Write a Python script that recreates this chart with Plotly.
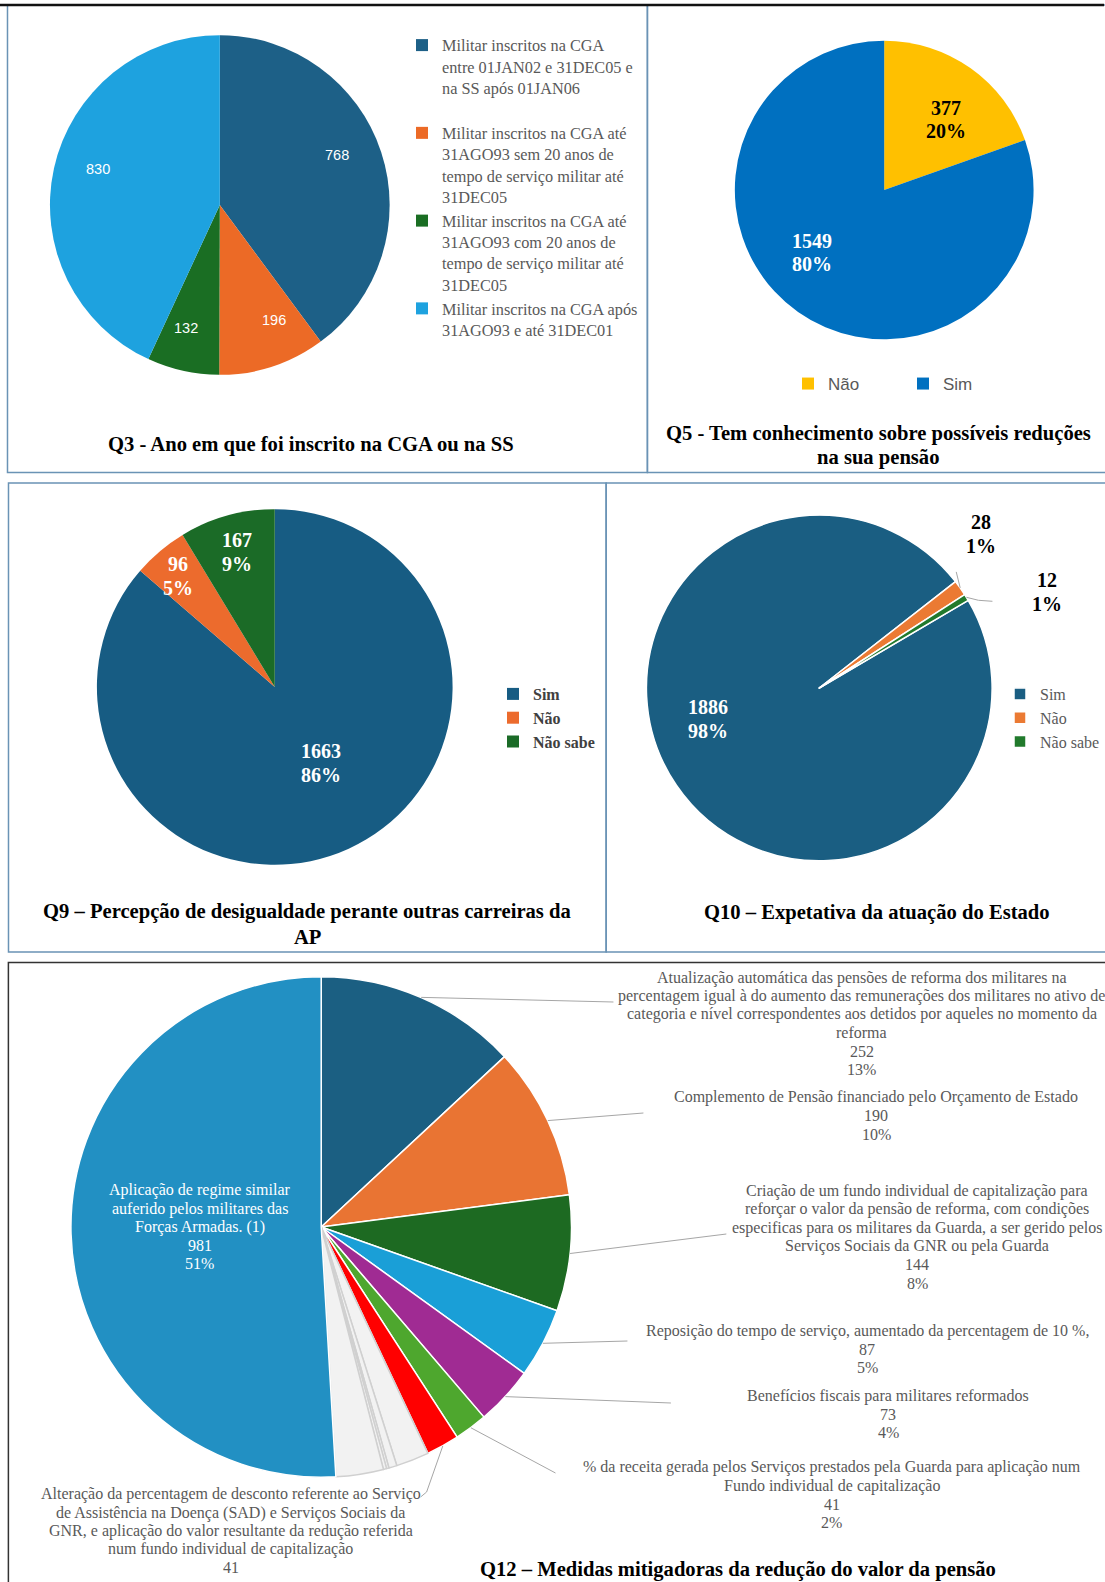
import math
import plotly.graph_objects as go

W, H = 1105, 1582
SERIF = "Liberation Serif, Times New Roman, serif"
SANS = "Liberation Sans, Arial, sans-serif"
GREY = "#595959"

# ---- data ----
q3_labels = [
    "Militar inscritos na CGA\nentre 01JAN02 e 31DEC05 e\nna SS após 01JAN06",
    "Militar inscritos na CGA até\n31AGO93 sem 20 anos de\ntempo de serviço militar até\n31DEC05",
    "Militar inscritos na CGA até\n31AGO93 com 20 anos de\ntempo de serviço militar até\n31DEC05",
    "Militar inscritos na CGA após\n31AGO93 e até 31DEC01",
]
q3_values = [768, 196, 132, 830]
q3_colors = ["#1d6087", "#ec6a26", "#1a6e23", "#1ea2df"]

q5_labels = ["Não", "Sim"]
q5_values = [377, 1549]
q5_pct = ["20%", "80%"]
q5_colors = ["#ffc000", "#0070c0"]

q9_labels = ["Sim", "Não", "Não sabe"]
q9_values = [1663, 96, 167]
q9_pct = ["86%", "5%", "9%"]
q9_colors = ["#175c83", "#ec6b2d", "#1b6b27"]

q10_labels = ["Sim", "Não", "Não sabe"]
q10_values = [1886, 28, 12]
q10_pct = ["98%", "1%", "1%"]
q10_colors = ["#1a5e82", "#eb7a33", "#217a2c"]

q12_labels = [
    "Atualização automática das pensões de reforma dos militares na\n"
    "percentagem igual à do aumento das remunerações dos militares no ativo de\n"
    "categoria e nível correspondentes aos detidos por aqueles no momento da\nreforma",
    "Complemento de Pensão financiado pelo Orçamento de Estado",
    "Criação de um fundo individual de capitalização para\n"
    "reforçar o valor da pensão de reforma, com condições\n"
    "especificas para os militares da Guarda, a ser gerido pelos\n"
    "Serviços Sociais da GNR ou pela Guarda",
    "Reposição do tempo de serviço, aumentado da percentagem de 10 %,",
    "Benefícios fiscais para militares reformados",
    "% da receita gerada pelos Serviços prestados pela Guarda para aplicação num\n"
    "Fundo individual de capitalização",
    "Alteração da percentagem de desconto referente ao Serviço\n"
    "de Assistência na Doença (SAD) e Serviços Sociais da\n"
    "GNR, e aplicação do valor resultante da redução referida\n"
    "num fundo individual de capitalização",
    "Outra medida 1", "Outra medida 2", "Outra medida 3", "Outra medida 4", "Outra medida 5",
    "Aplicação de regime similar\nauferido pelos militares das\nForças Armadas. (1)",
]
q12_values = [252, 190, 144, 87, 73, 41, 41, 41, 10, 3, 4, 59, 981]
q12_pct = ["13%", "10%", "8%", "5%", "4%", "2%", "", "", "", "", "", "", "51%"]
q12_colors = ["#1b5f82", "#e97433", "#1d6a22", "#1a9fd7", "#a02b93", "#4ea72e", "#ff0000",
              "#f2f2f2", "#f2f2f2", "#f2f2f2", "#f2f2f2", "#f2f2f2", "#2290c3"]


def px(x):
    return x / W


def py(y):
    return 1 - y / H


def dom(cx, cy, r):
    return dict(x=[px(cx - r), px(cx + r)], y=[py(cy + r), py(cy - r)])


def mids(values, rot=0):
    tot, acc, out = sum(values), 0, []
    for v in values:
        out.append(rot + (acc + v / 2) / tot * 360)
        acc += v
    return out


def polar(cx, cy, r, theta, k):
    t = math.radians(theta)
    return cx + k * r * math.sin(t), cy - k * r * math.cos(t)


ann = []
shapes = []


def block(x, y, lines, size, color, bold=False, gap=None, family=SERIF):
    gap = gap or size * 1.2
    n = len(lines)
    for i, s in enumerate(lines):
        yy = y + (i - (n - 1) / 2) * gap
        ann.append(dict(x=px(x), y=py(yy), xref="paper", yref="paper", showarrow=False,
                        text=f"<b>{s}</b>" if bold else s, xanchor="center", yanchor="middle",
                        font=dict(family=family, size=size, color=color)))


def seg(pts, color="#a6a6a6", width=1):
    d = "M" + " L".join(f"{px(x)},{py(y)}" for x, y in pts)
    shapes.append(dict(type="path", path=d, xref="paper", yref="paper",
                       line=dict(color=color, width=width)))


fig = go.Figure()

# ---- Q3 ----
c3 = (220, 205, 170)
leg3 = [s.replace("\n", "<br>") for s in q3_labels]
leg3[0] += "<br> "
fig.add_trace(go.Pie(labels=leg3, values=q3_values, sort=False, direction="clockwise",
                     marker=dict(colors=q3_colors), textinfo="none", hoverinfo="skip",
                     domain=dom(*c3), legend="legend"))
for th, v, d in zip(mids(q3_values), q3_values, [-5, -7, 3, 4]):
    x, y = polar(*c3, th + d, 0.75)
    block(x, y, [str(v)], 14.5, "white", family=SANS)

# ---- Q5 ----
c5 = (885, 190, 149.5)
fig.add_trace(go.Pie(labels=q5_labels, values=q5_values, sort=False, direction="clockwise",
                     marker=dict(colors=q5_colors), textinfo="none", hoverinfo="skip",
                     domain=dom(*c5), legend="legend2"))
for th, v, p, d, k, col in zip(mids(q5_values), q5_values, q5_pct, [6, 14], [0.63, 0.64],
                               ["black", "white"]):
    x, y = polar(*c5, th + d, k)
    block(x, y, [str(v), p], 20, col, bold=True, gap=23)

# ---- Q9 ---- (zero-width suffix keeps legend entries apart from the other pies)
c9 = (275, 687, 178)
fig.add_trace(go.Pie(labels=[s + "\u200b" for s in q9_labels], values=q9_values, sort=False,
                     direction="clockwise", marker=dict(colors=q9_colors), textinfo="none",
                     hoverinfo="skip", domain=dom(*c9), legend="legend3"))
for th, v, p, d, k in zip(mids(q9_values), q9_values, q9_pct, [-7, -1, 0], [0.5, 0.83, 0.79]):
    x, y = polar(*c9, th + d, k)
    block(x, y, [str(v), p], 20, "white", bold=True, gap=24)

# ---- Q10 ----
c10 = (820, 688, 173)
rot10 = 59.5
fig.add_trace(go.Pie(labels=[s + "\u200b\u200b" for s in q10_labels], values=q10_values, sort=False,
                     direction="clockwise", rotation=rot10,
                     marker=dict(colors=q10_colors, line=dict(color="white", width=1.5)),
                     textinfo="none", hoverinfo="skip", domain=dom(*c10), legend="legend4"))
m10 = mids(q10_values, rot10)
for th, v, p, d, k, col in zip(m10, q10_values, q10_pct, [18.5, -8.2, 8.7], [0.67, 1.29, 1.43],
                               ["white", "black", "black"]):
    x, y = polar(*c10, th + d, k)
    block(x, y, [str(v), p], 20, col, bold=True, gap=24)
ox, oy = polar(*c10, m10[1], 1.0)
seg([(ox, oy), (ox - 2, oy - 8), (ox - 4, oy - 16)])
gx, gy = polar(*c10, m10[2], 1.0)
seg([(gx, gy), (gx + 12, gy + 3), (gx + 26, gy + 4)])

# ---- Q12 ----
c12 = (321.5, 1227, 250.5)
lc12 = ["#d0d0d0" if c == "#f2f2f2" else "white" for c in q12_colors]
fig.add_trace(go.Pie(labels=[s.replace("\n", " ") for s in q12_labels], values=q12_values,
                     sort=False, direction="clockwise",
                     marker=dict(colors=q12_colors, line=dict(color=lc12, width=1.5)),
                     textinfo="none", hoverinfo="skip", domain=dom(*c12), showlegend=False))
m12 = mids(q12_values)
# label box centre and leader end for the outside labels
q12_pos = {
    0: ((862.5, 1023.6), [(614, 1002)]),
    1: ((877, 1115.6), [(644, 1113)]),
    2: ((918, 1237), [(727, 1234)]),
    3: ((868, 1349.4), [(628, 1341)]),
    4: ((889, 1414.3), [(671.5, 1403)]),
    5: ((832.5, 1494.9), [(556, 1473)]),
    6: ((231, 1531), [(427, 1492), (421, 1497)]),
}
for i, ((tx, ty), ends) in q12_pos.items():
    lines = q12_labels[i].split("\n") + [str(q12_values[i])]
    if q12_pct[i]:
        lines.append(q12_pct[i])
    block(tx, ty, lines, 16, GREY, gap=18.4)
    seg([polar(*c12, m12[i], 1.0)] + ends)
bx, by = polar(*c12, m12[12] + 1.7, 0.485)
block(bx, by, q12_labels[12].split("\n") + [str(q12_values[12]), q12_pct[12]], 16, "white", gap=18.3)

# ---- titles ----
TS = 20.6
block(311, 445, ["Q3 - Ano em que foi inscrito na CGA ou na SS"], TS, "black", bold=True)
block(879, 445.3, ["Q5 - Tem conhecimento sobre possíveis reduções", "na sua pensão"], TS, "black",
      bold=True, gap=24)
block(307.5, 924.3, ["Q9 – Percepção de desigualdade perante outras carreiras da", "AP"], TS, "black",
      bold=True, gap=24.7)
block(878, 912.3, ["Q10 – Expetativa da atuação do Estado"], TS, "black", bold=True)
block(739, 1569, ["Q12 – Medidas mitigadoras da redução do valor da pensão"], TS, "black", bold=True)

# ---- panel frames ----
BL = "#6a93b5"
for x0, y0, x1, y1 in [(7.5, 5, 648, 472.5), (648, 5, 1112, 472.5),
                       (8.5, 483, 606.7, 952), (606.7, 483, 1112, 952)]:
    shapes.append(dict(type="rect", xref="paper", yref="paper", x0=px(x0), x1=px(x1), y0=py(y1), y1=py(y0),
                       line=dict(color=BL, width=1.5)))
shapes.append(dict(type="rect", xref="paper", yref="paper", x0=px(8.4), x1=px(1112), y0=py(1590), y1=py(962.5),
                   line=dict(color="#333333", width=1.5)))
shapes.append(dict(type="line", xref="paper", yref="paper", x0=0, x1=1, y0=py(5), y1=py(5),
                   line=dict(color="#111111", width=2.5)))

fig.update_layout(
    width=W, height=H, margin=dict(l=0, r=0, t=0, b=0),
    paper_bgcolor="white", plot_bgcolor="white",
    annotations=ann, shapes=shapes,
    legend=dict(x=px(416), y=py(28), xanchor="left", yanchor="top", valign="top",
                font=dict(family=SERIF, size=16.3, color=GREY), bgcolor="rgba(0,0,0,0)",
                indentation=-14),
    legend2=dict(orientation="h", x=px(903), y=py(366), xanchor="center", yanchor="top",
                 font=dict(family=SANS, size=17, color=GREY), entrywidth=70, bgcolor="rgba(0,0,0,0)"),
    legend3=dict(x=px(505), y=py(677), xanchor="left", yanchor="top",
                 font=dict(family=SERIF, size=16, color="#404040", weight="bold"), bgcolor="rgba(0,0,0,0)",
                 indentation=-12),
    legend4=dict(x=px(1001), y=py(677), xanchor="left", yanchor="top",
                 font=dict(family=SERIF, size=16, color=GREY), bgcolor="rgba(0,0,0,0)"),
)

fig.write_html("out.html", config={"displayModeBar": False},
               post_script="document.body.style.margin='0';")
